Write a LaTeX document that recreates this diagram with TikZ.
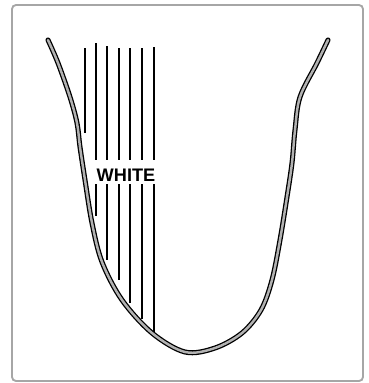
\documentclass[tikz,border=0pt]{standalone}
\usepackage{fontspec}
\setsansfont{Liberation Sans}
\usetikzlibrary{positioning}

\begin{document}
\begin{tikzpicture}[
  x=0.03cm, y=-0.03cm,
  frame/.style={draw=gray!70, line width=1.6pt, rounded corners=0.12cm},
  tongue/.style={draw=black, line width=1.1pt, double=gray!60, double distance=2.1pt, line cap=round},
  stripe/.style={line width=1.2pt, black},
  label/.style={font=\sffamily\bfseries\fontsize{15.5}{16}\selectfont, inner sep=0pt}
]
  \useasboundingbox (0,0) rectangle (369,383);
  \draw[frame] (12,5) rectangle (363,381);

  % the U-shaped outline
  \draw[tongue] plot[smooth, tension=0.55] coordinates {
    (48,40) (58,63) (70,97) (77,123) (80,147) (85,180) (92,223) (102,262)
    (122,300) (152,333) (185,352) (215,348) (242,333) (261,310) (272,280)
    (280,240) (287,197) (292,163) (295,130) (300,97) (317,63) (328,40)};

  \node[label] (white) at (126,175) {WHITE};

  % hatching, broken by the label
  \draw[stripe] (85,48) -- (85,133);
  \foreach \x/\top/\bot in {96/43/216, 107/46/260, 119/48/280, 130/48/303, 142/48/319, 154/47/332}{
    \draw[stripe] (\x,\top) -- (\x,160);
    \draw[stripe] (\x,184) -- (\x,\bot);
  }
\end{tikzpicture}
\end{document}
